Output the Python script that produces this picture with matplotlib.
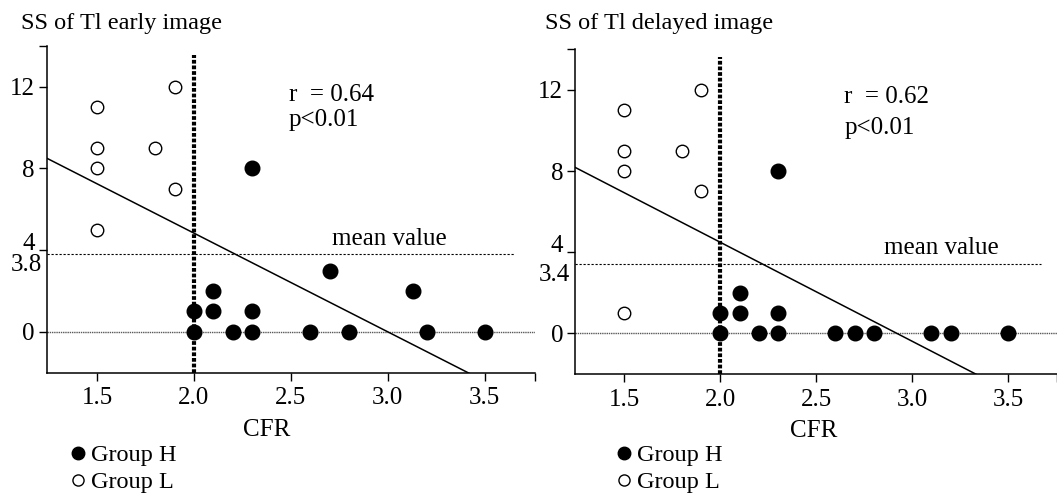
import matplotlib
matplotlib.use('Agg')
import matplotlib.pyplot as plt
from matplotlib.lines import Line2D

plt.rcParams['font.family'] = ['Liberation Serif', 'DejaVu Serif']

# Group L (open circles) and Group H (filled circles), early image
early_l_cfr = [1.5, 1.5, 1.5, 1.5, 1.8, 1.9, 1.9]
early_l_ss = [11, 9, 8, 5, 9, 12, 7]
early_h_cfr = [2.3, 2.7, 2.1, 3.13, 2.0, 2.1, 2.3, 2.0, 2.2, 2.3, 2.6, 2.8, 3.2, 3.5]
early_h_ss = [8, 3, 2, 2, 1, 1, 1, 0, 0, 0, 0, 0, 0, 0]

# delayed image
delayed_l_cfr = [1.5, 1.5, 1.5, 1.5, 1.8, 1.9, 1.9]
delayed_l_ss = [11, 9, 8, 1, 9, 12, 7]
delayed_h_cfr = [2.3, 2.1, 2.0, 2.1, 2.3, 2.0, 2.2, 2.3, 2.6, 2.7, 2.8, 3.1, 3.2, 3.5]
delayed_h_ss = [8, 2, 1, 1, 1, 0, 0, 0, 0, 0, 0, 0, 0, 0]

titles = ['SS of Tl early image', 'SS of Tl delayed image']
mean_values = [3.8, 3.4]
mean_labels = ['3.8', '3.4']
r_text = ['r  = 0.64', 'r  = 0.62']
p_text = ['p<0.01', 'p<0.01']
# regression lines (slope, intercept)
slopes = [-4.83, -4.88]
intercepts = [14.49, 14.25]
cfr_cutoff = 2.0

fig = plt.figure(figsize=(10.57, 4.96), dpi=100)
ax1 = fig.add_axes([0.0442, 0.2486, 0.462, 0.659])
ax2 = fig.add_axes([0.544, 0.246, 0.456, 0.6546])

panels = [
    (ax1, early_l_cfr, early_l_ss, early_h_cfr, early_h_ss),
    (ax2, delayed_l_cfr, delayed_l_ss, delayed_h_cfr, delayed_h_ss),
]
xlims = [(1.24, 3.76), (1.243, 3.754)]
mean_end = [3.655, 3.67]
cut_top = [13.55, 13.64]
r_pos = [(2.49, 11.6), (2.646, 11.67)]
p_pos = [(2.49, 10.37), (2.646, 10.1)]
mean_text_pos = [(3.01, 4.55), (3.15, 4.19)]
xlabel_x = [0.451, 0.495]
title_x = [0.0196, 0.5156]
legend_x = [0.0642, 0.5814]

for i, (ax, lx, ly, hx, hy) in enumerate(panels):
    x0, x1 = xlims[i]
    ax.set_xlim(x0, x1)
    ax.set_ylim(-2, 14)

    # zero line and mean line
    ax.plot([x0, x1], [0, 0], color='0.35', lw=1.0, ls=(0, (1, 0.6)), zorder=1)
    ax.plot([x0, mean_end[i]], [mean_values[i]] * 2, color='black', lw=0.8,
            ls=(0, (2.0, 1.6)), zorder=1)
    # CFR cutoff
    ax.plot([cfr_cutoff, cfr_cutoff], [-2, cut_top[i]], color='black', lw=3,
            ls=(0, (0.9, 0.45)), zorder=1, clip_on=False)
    # regression
    ax.plot([x0, x1], [intercepts[i] + slopes[i] * x0, intercepts[i] + slopes[i] * x1],
            color='black', lw=1.1, zorder=2)

    ax.plot(hx, hy, 'o', color='black', ms=10.5, ls='none', zorder=3)
    ax.plot(lx, ly, 'o', mfc='white', mec='black', mew=1.0, ms=9, ls='none', zorder=3)

    ax.spines['top'].set_visible(False)
    ax.spines['right'].set_visible(False)
    ax.spines['left'].set_linewidth(1.1)
    ax.spines['bottom'].set_linewidth(1.1)

    ax.set_xticks([1.5, 2.0, 2.5, 3.0, 3.5, x1])
    ax.set_xticklabels(['1.5', '2.0', '2.5', '3.0', '3.5', ''])
    ax.set_yticks([0, 4, 8, 12, 14])
    ax.set_yticklabels(['0', '4', '8', '12', ''])
    ax.tick_params(axis='both', direction='out', length=5.5, width=1.0,
                   labelsize=18, colors='black')
    ax.tick_params(axis='x', pad=5)
    ax.tick_params(axis='y', pad=3)
    ax.get_yticklabels()[1].set_verticalalignment('baseline')

    ax.text(-0.01, mean_values[i], mean_labels[i], transform=ax.get_yaxis_transform(),
            ha='right', va='top', fontsize=18)

    ax.text(r_pos[i][0], r_pos[i][1], r_text[i], ha='left', va='center', fontsize=18)
    ax.text(p_pos[i][0], p_pos[i][1], p_text[i], ha='left', va='center', fontsize=18)
    ax.text(mean_text_pos[i][0], mean_text_pos[i][1], 'mean value', ha='center',
            va='center', fontsize=18)

    ax.set_xlabel('CFR', fontsize=18, va='center')
    ax.xaxis.set_label_coords(xlabel_x[i], -0.175)

    fig.text(title_x[i], 0.952, titles[i], ha='left', va='center', fontsize=17.5)

    handles = [
        Line2D([], [], marker='o', color='black', ms=9, ls='none'),
        Line2D([], [], marker='o', mfc='white', mec='black', mew=1.0, ms=8, ls='none'),
    ]
    fig.legend(handles, ['Group H', 'Group L'], loc='upper left',
               bbox_to_anchor=(legend_x[i], 0.104), frameon=False, fontsize=17.5,
               handlelength=0.8, handletextpad=0.14, labelspacing=0.2, borderpad=0,
               borderaxespad=0)

fig.savefig('out.png', dpi=100)
